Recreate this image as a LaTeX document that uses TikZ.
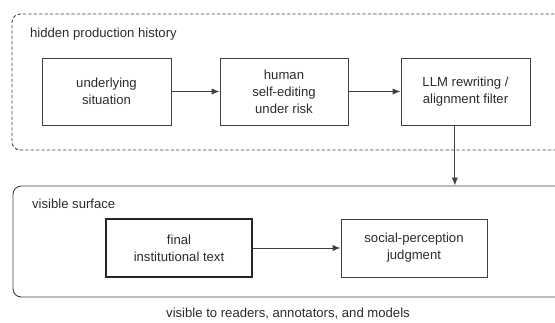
\documentclass[tikz,border=0pt]{standalone}
\usepackage{fontspec}
\setmainfont{Liberation Sans}
\usetikzlibrary{arrows.meta}
\definecolor{linegray}{HTML}{404040}
\definecolor{textgray}{HTML}{2B2B2B}
\begin{document}
\begin{tikzpicture}[
            stage/.style={rectangle, draw=linegray, line width=0.8pt, align=center, text=textgray, font=\fontsize{11.2}{14.5}\selectfont, minimum height=2.01cm},
            surf/.style={rectangle, draw=linegray, line width=0.8pt, rounded corners=7pt},
            caption/.style={text=textgray, font=\fontsize{11.2}{14.5}\selectfont},
            arr/.style={-{Latex[length=2.4mm, width=1.9mm]}, draw=linegray, line width=0.8pt},
        ]
            \clip (0,0) rectangle (16.65,-9.66);

            % Hidden production history
            \node[surf, dash pattern=on 2.8pt off 1.8pt, minimum width=16.84cm, minimum height=4.08cm] (hidden) at (8.78, -2.46) {};
            \node[caption, anchor=west] (hiddenlbl) at (0.78, -1.02) {hidden production history};
            \node[stage, minimum width=3.87cm] (situation) at (3.195, -2.745) {underlying\\situation};
            \node[stage, minimum width=3.84cm] (selfedit) at (8.52, -2.745) {human\\self-editing\\under risk};
            \node[stage, minimum width=3.87cm] (filter) at (13.965, -2.745) {LLM rewriting /\\alignment filter};

            % Visible surface
            \node[surf, minimum width=16.81cm, minimum height=3.33cm] (visible) at (8.795, -7.245) {};
            \node[caption, anchor=west] (visiblelbl) at (0.84, -6.12) {visible surface};
            \node[stage, line width=1.5pt, draw=black!85, minimum width=4.38cm, minimum height=1.74cm] (final) at (5.37, -7.44) {final\\institutional text};
            \node[stage, minimum width=4.38cm, minimum height=1.74cm] (judgment) at (12.42, -7.44) {social-perception\\judgment};
            \node[caption] (readers) at (8.64, -9.42) {visible to readers, annotators, and models};

            % Flow
            \draw[arr] (situation.east) -- (selfedit.west);
            \draw[arr] (selfedit.east) -- (filter.west);
            \draw[arr] ([xshift=-0.32cm]filter.south) -- ([xshift=-0.32cm]filter.south |- visible.north);
            \draw[arr] (final.east) -- (judgment.west);
        \end{tikzpicture}
\end{document}
